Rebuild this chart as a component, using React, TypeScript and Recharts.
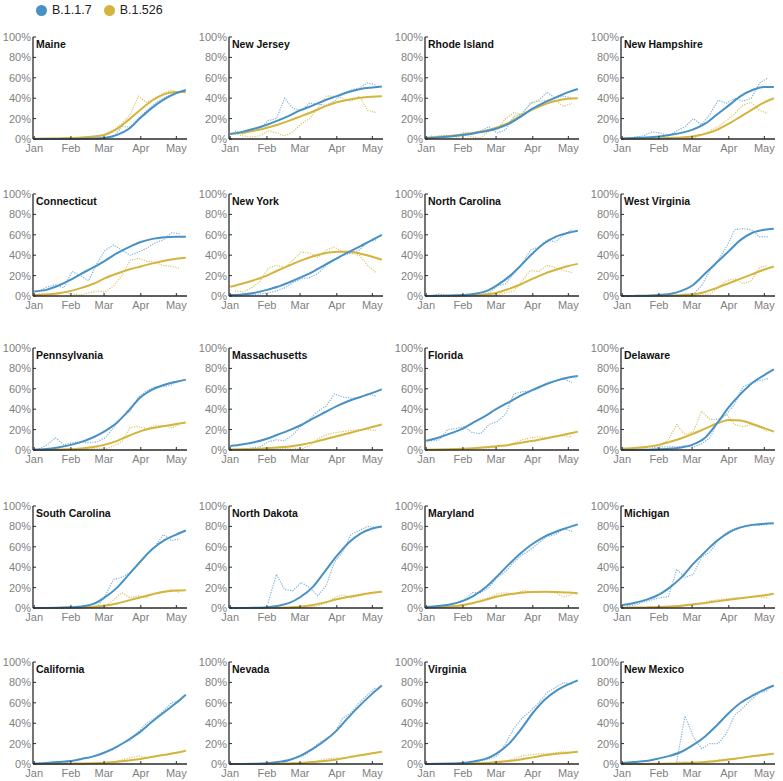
import React from "react";
import { LineChart, Line, XAxis, YAxis } from "recharts";

const STATES = [
  "Maine", "New Jersey", "Rhode Island", "New Hampshire",
  "Connecticut", "New York", "North Carolina", "West Virginia",
  "Pennsylvania", "Massachusetts", "Florida", "Delaware",
  "South Carolina", "North Dakota", "Maryland", "Michigan",
  "California", "Nevada", "Virginia", "New Mexico",
];

// day of year (0 = Jan 1)
const FIT_DAYS = [0, 10, 20, 31, 40, 50, 59, 70, 80, 90, 100, 110, 120, 128];
const RAW_DAYS = [4, 11, 18, 25, 32, 39, 46, 53, 60, 67, 74, 81, 88, 95, 102, 109, 116, 123];
const MONTH_TICKS = [0, 31, 59, 90, 120];
const MONTH_LABELS = ["Jan", "Feb", "Mar", "Apr", "May"];
const PCT_TICKS = [0, 20, 40, 60, 80, 100];

// fitted share, %, one row per state (same order as STATES)
const B117_FIT = [
  [0, 0, 0, 0, 0.2, 0.4, 1, 4, 10, 21, 31, 39, 45, 48],
  [5, 7, 10, 14, 18, 23, 28, 33, 38, 42, 46, 49, 50.5, 51.5],
  [1, 1.5, 2.5, 4, 5.5, 7.5, 10, 15, 22, 30, 36, 41, 46, 49],
  [0.5, 1, 1.5, 2.5, 4, 6, 9, 15, 24, 33, 42, 48, 51, 51],
  [4.5, 6, 10, 16, 22, 28, 34, 42, 48, 53, 56, 57.5, 58, 58],
  [1, 1.5, 3, 6, 9, 13.5, 18, 24, 30.5, 37, 43, 49, 55, 60],
  [0, 0.2, 0.4, 1, 2, 4.5, 10, 19, 30, 42, 52, 58.5, 62, 64],
  [0, 0.1, 0.3, 1, 2, 5, 10, 22, 33, 44, 55, 62, 65, 66],
  [0.5, 1, 2.5, 5, 8, 12.5, 18, 27, 39, 52, 59.5, 64, 67, 69],
  [4, 5.5, 7.5, 11, 15, 19.5, 24, 31, 37, 43, 48, 52, 56, 59.5],
  [9, 12, 16, 21, 27, 33.5, 40, 47, 53.5, 59, 64, 68, 71, 72.5],
  [0, 0.1, 0.3, 0.7, 1.2, 2.5, 5, 12, 26, 42, 55, 66, 73.5, 79],
  [0, 0.1, 0.2, 0.7, 1.5, 4, 10, 20, 33, 46, 58, 66.5, 72, 76],
  [0, 0, 0.2, 0.8, 2, 5, 10.5, 21, 36, 51, 64, 73, 78, 80],
  [1, 2, 3.5, 7, 12, 20, 30, 43, 54, 63, 70, 75, 79, 82],
  [3, 5, 8, 13, 20, 30, 42, 55, 66, 74, 79, 81.5, 82.5, 83],
  [0.5, 1, 2, 3, 5, 7.5, 11, 17, 24, 32, 42, 51, 60, 68],
  [0, 0.1, 0.3, 0.8, 2, 4, 8, 15, 23, 33, 46, 58, 69, 77],
  [0, 0.2, 0.5, 1, 2.5, 5, 10, 20, 34, 50, 63, 72, 78, 82],
  [1, 2, 3, 5.5, 8, 12, 18, 27, 38, 50, 60, 67, 73, 77],
];

const B1526_FIT = [
  [0.3, 0.4, 0.6, 1, 1.5, 2.5, 4, 10, 19, 29, 38, 44, 46, 46],
  [5, 6, 8, 11, 14, 18, 22, 27, 32, 36, 38.5, 40.5, 41.5, 42],
  [1.5, 2, 3, 4.5, 6, 8, 11, 16, 23, 29, 34, 37.5, 39.5, 40],
  [0.3, 0.3, 0.4, 0.6, 1, 1.5, 2.5, 5, 9, 15, 22, 29, 36, 40],
  [1, 1.5, 2.5, 5, 8, 12, 17, 22, 26, 29, 32, 34.5, 36.5, 37.5],
  [9, 12, 15.5, 20, 25, 30, 34.5, 39, 42, 43.5, 43.5, 41.5, 38.5, 35.5],
  [0, 0, 0.1, 0.3, 0.7, 1.5, 3, 7, 11.5, 17, 22, 26, 29.5, 31.5],
  [0, 0, 0.1, 0.2, 0.4, 0.8, 1.5, 4, 8, 12.5, 17, 21.5, 26, 29],
  [0, 0.1, 0.3, 0.8, 1.5, 3, 5, 9, 14, 18.5, 21.5, 23.5, 25.5, 27],
  [0.5, 0.7, 1, 1.8, 2.5, 3.5, 5, 7.5, 10.5, 13.5, 16.5, 19.5, 22.5, 25],
  [0.2, 0.4, 0.7, 1.2, 1.8, 2.7, 3.7, 5, 7, 9, 11, 13.5, 16, 18],
  [1.5, 2, 3, 5, 8, 11.5, 15.5, 21, 26, 29.5, 29, 25.5, 21.5, 18],
  [0, 0, 0.1, 0.3, 0.6, 1.2, 2.3, 4.5, 7.5, 10.5, 13.5, 16, 17.2, 17.5],
  [0, 0, 0, 0.1, 0.3, 0.6, 1.2, 3, 5.5, 8.5, 11, 13, 15, 16],
  [0.5, 1, 1.5, 3, 5, 8, 11, 13.5, 15, 15.8, 16, 15.7, 15.2, 14.5],
  [0.3, 0.4, 0.6, 1, 1.5, 2.3, 3.5, 5, 6.5, 8, 9.5, 11, 12.5, 14],
  [0, 0, 0.1, 0.3, 0.5, 0.8, 1.3, 2.2, 3.5, 5, 7, 9, 11, 13],
  [0, 0, 0, 0.1, 0.3, 0.6, 1, 2, 3, 4.5, 6.5, 8.5, 10.5, 12],
  [0, 0, 0.1, 0.3, 0.6, 1, 1.8, 3, 4.5, 6.5, 8.5, 10, 11, 12],
  [0, 0, 0.1, 0.2, 0.4, 0.7, 1.2, 2, 3, 4.5, 6, 7.5, 9, 10],
];

// observed share, %, sampled weekly
const B117_RAW = [
  [null, null, null, null, 0, 0, 0, 0, 1, 2, 12, 12, 20, 28, 35, 40, 44, 47],
  [8, 5, 8, 10, 18, 20, 40, 30, 28, 35, 34, 33, 37, 45, 48, 50, 55, 53],
  [2, 3, 3.5, 3, 6, 6, 8, 12, 6, 9, 22, 25, 35, 38, 46, 40, 42, 40],
  [0, 2, 3, 7, 6, 3, 8, 12, 20, 14, 24, 38, 35, 40, 37, 40, 55, 60],
  [5, 9, 11, 8, 24, 20, 15, 32, 45, 50, 45, 40, 43, 47, 52, 55, 62, 61],
  [1, 1, 1, 2, 3, 5, 8, 13, 17, 18, 22, 30, 35, 40, 42, 45, 53, 55],
  [0, 2, 0.5, 0, 1, 1, 1.5, 3, 10, 12, 22, 32, 45, 48, 55, 53, 60, 65],
  [null, null, null, null, 0.5, 1, 1, 2, 2, 10, 25, 35, 48, 65, 66, 65, 58, 58],
  [1, 5, 12, 5, 7, 8, 7, 8, 12, 22, 32, 38, 52, 58, 62, 62, 64, 68],
  [0, 1, 2, 3, 8, 10, 9, 15, 24, 30, 38, 43, 55, 52, 51, 51, 55, 53],
  [9, 10, 20, 21, 23, 17, 16, 25, 28, 35, 55, 57, 58, 60, 66, 68, 70, 66],
  [null, null, null, 2, 3, 3, 3, 4, 3, 6, 12, 28, 35, 45, 62, 66, 68, 70],
  [null, null, null, null, null, null, null, 0.5, 12, 28, 30, 35, 42, 53, 60, 72, 66, 68],
  [null, null, null, null, 5, 33, 18, 17, 25, 20, 12, 22, 45, 55, 72, 76, 80, 79],
  [1, 2, 3, 5, 8, 15, 15, 20, 30, 36, 45, 52, 57, 64, 70, 72, 78, 75],
  [2, 3, 6, 8, 10, 11, 38, 30, 33, 50, 55, 66, 74, 78, 80, 82, 81, 82],
  [1, 1, 2, 2, 3, 5, 6, 9, 12, 14, 20, 23, 32, 40, 45, 52, 60, 62],
  [null, null, null, null, null, 1, 2, 5, 7, 12, 20, 25, 30, 45, 50, 60, 68, 75],
  [null, null, null, null, 1, 2, 3, 5, 8, 20, 35, 45, 52, 60, 70, 75, 80, 78],
  [1, 1, null, null, null, null, 2, 47, 27, 15, 20, 20, 30, 48, 55, 63, 70, 72],
];

const B1526_RAW = [
  [null, 0.5, 1, 0.5, 0.5, 1, 1.5, 3, 5, 9, 15, 24, 42, 36, 40, 45, 48, 44],
  [5, 3, 2, 3, 8, 6, 3, 7, 15, 20, 30, 42, 42, 40, 37, 42, 28, 26],
  [3, 2, 1, 1, 4, 2, 1, 8, 10, 20, 26, 24, 35, 37, 38, 38, 32, 35],
  [null, null, null, null, null, null, null, 0, 1, 4, 8, 12, 18, 25, 33, 36, 28, 25],
  [2, 2, 3, 4, 2, 1, 3, 5, 4, 10, 20, 35, 37, 34, 33, 30, 29, 27],
  [5, 4, 8, 14, 27, 30, 28, 35, 43, 42, 38, 45, 48, 43, 42, 40, 30, 23],
  [null, null, null, null, null, null, null, 1, 1, 3, 5, 15, 25, 24, 30, 28, 25, 23],
  [null, null, null, null, 0, 0, 0, 0, 0, 1, 2, 8, 15, 17, 12, 15, 28, 30],
  [0, 0, 0.5, 1, 1, 1, 1, 2, 1, 4, 8, 22, 23, 21, 24, 24, 22, 25],
  [0, 0, 0.5, 1, 1, 1, 1.5, 2, 1, 4, 11, 15, 17, 18, 19, 20, 20, 19],
  [0, 0, 0.5, 0.5, 1, 1, 2, 2, 3, 4, 7, 10, 12, 13, 12, 13, 14, 13],
  [1, 2, 2, 3, 5, 10, 25, 15, 18, 38, 30, 30, 35, 25, 23, 25, 22, 18],
  [null, null, null, null, null, null, null, 0, 2, 8, 15, 10, 12, 10, 15, 16, 18, 15],
  [null, null, null, null, null, null, null, null, 0.5, 1, 2, 5, 10, 13, 10, 12, 14, 15],
  [0.5, 1, 2, 1, 2, 5, 8, 10, 14, 15, 13, 17, 16, 16, 16, 15, 11, 13],
  [0, 0, 0.5, 0.5, 1, 1, 1, 2, 3, 4, 7, 8, 9, 10, 10, 11, 11, 10],
  [null, null, null, null, null, null, null, 1, 1, 2, 4, 6, 8, 6, 7, 9, 10, 12],
  [null, null, null, null, null, null, null, null, 1, 2, 3, 5, 6, 5, 8, 9, 10, 11],
  [null, null, null, null, null, null, null, 1, 2, 3, 5, 8, 9, 10, 10, 11, 12, 11],
  [null, null, null, null, null, null, 2, 2, 1, 2, 3, 4, 5, 5, 6, 8, 8, 9],
];

const BLUE = "#4891c6";
const GOLD = "#d4b43c";
const BLUE_RAW = "#7fb2da";
const GOLD_RAW = "#dcc467";
const FONT = "'Liberation Sans', Arial, Helvetica, sans-serif";

const COL_W = 196;
const ROW_TOPS = [37, 194, 348, 506, 662];

function Panel({ idx }: { idx: number }) {
  const col = idx % 4;
  const row = Math.floor(idx / 4);
  const fitRows = FIT_DAYS.map((day, i) => ({ day, b117: B117_FIT[idx][i], b1526: B1526_FIT[idx][i] }));
  const rawRows = RAW_DAYS.map((day, i) => ({ day, b117: B117_RAW[idx][i], b1526: B1526_RAW[idx][i] }));
  const tickStyle = { fill: "#7f7f7f", fontSize: 11, fontFamily: FONT };
  return (
    <div style={{ position: "absolute", left: col * COL_W, top: ROW_TOPS[row] - 7, width: COL_W, height: 130 }}>
      <LineChart width={COL_W} height={130} data={fitRows} margin={{ top: 7, right: 9, bottom: 0, left: 0 }}>
        <XAxis
          type="number" dataKey="day" domain={[-1, 129]} ticks={MONTH_TICKS} interval={0} allowDataOverflow
          tickFormatter={(v: number) => MONTH_LABELS[MONTH_TICKS.indexOf(v)]}
          height={21} tick={tickStyle} tickSize={-3} tickMargin={8}
          axisLine={{ stroke: "#2a2a2a", strokeWidth: 1.6 }} tickLine={{ stroke: "#2a2a2a" }}
        />
        <YAxis
          type="number" domain={[0, 100]} ticks={PCT_TICKS} interval={0}
          tickFormatter={(v: number) => `${v}%`}
          width={33} tick={tickStyle} tickSize={-3} tickMargin={5}
          axisLine={{ stroke: "#2a2a2a", strokeWidth: 1.3 }} tickLine={{ stroke: "#2a2a2a" }}
        />
        <Line data={rawRows} dataKey="b1526" stroke={GOLD_RAW} strokeWidth={1.2} strokeDasharray="1.2 1.3" dot={false} isAnimationActive={false} />
        <Line data={rawRows} dataKey="b117" stroke={BLUE_RAW} strokeWidth={1.2} strokeDasharray="1.2 1.3" dot={false} isAnimationActive={false} />
        <Line type="monotone" dataKey="b1526" stroke={GOLD} strokeWidth={2} dot={false} isAnimationActive={false} />
        <Line type="monotone" dataKey="b117" stroke={BLUE} strokeWidth={2} dot={false} isAnimationActive={false} />
      </LineChart>
      <div style={{ position: "absolute", left: 36, top: 8, fontFamily: FONT, fontWeight: 700, fontSize: 10.5, color: "#111", whiteSpace: "nowrap" }}>
        {STATES[idx]}
      </div>
    </div>
  );
}

function LegendItem({ label, color }: { label: string; color: string }) {
  return (
    <div style={{ display: "flex", alignItems: "center", gap: 5 }}>
      <div style={{ width: 11, height: 11, borderRadius: "50%", background: color }} />
      <span style={{ fontFamily: FONT, fontSize: 12.5, color: "#222" }}>{label}</span>
    </div>
  );
}

export default function App() {
  return (
    <div style={{ position: "absolute", left: 0, top: 0, width: 783, height: 781, overflow: "hidden", background: "#fff" }}>
      <div style={{ position: "absolute", left: 36, top: 3, display: "flex", gap: 12 }}>
        <LegendItem label="B.1.1.7" color={BLUE} />
        <LegendItem label="B.1.526" color={GOLD} />
      </div>
      {STATES.map((_, i) => (
        <Panel key={i} idx={i} />
      ))}
    </div>
  );
}
